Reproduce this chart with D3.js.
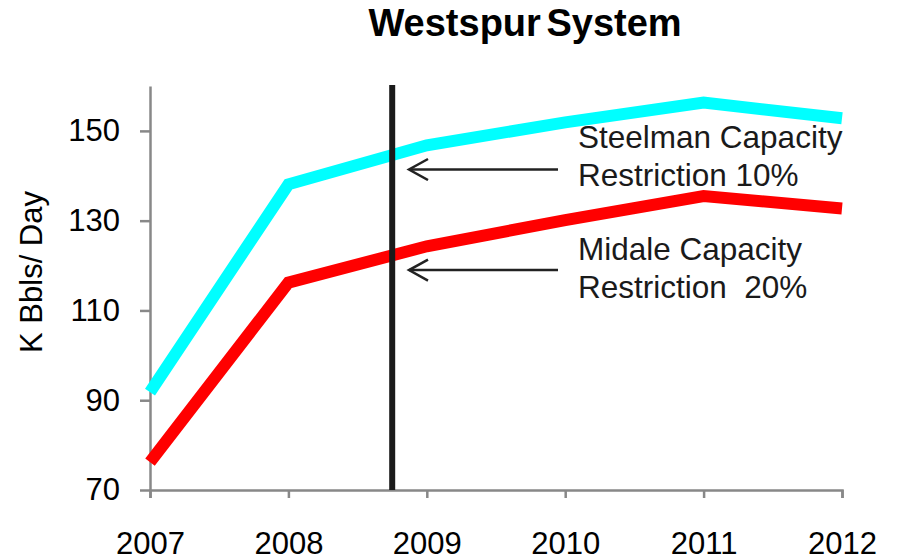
<!DOCTYPE html>
<html>
<head>
<meta charset="utf-8">
<script src="https://cdn.jsdelivr.net/npm/d3@7.9.0/dist/d3.min.js"></script>
<style>
  body { margin: 0; background: #fff; }
  svg { display: block; font-family: Arial, "Liberation Sans", sans-serif; }
  .axis path, .axis line { stroke: #888; stroke-width: 2.5; }
  .axis text { fill: #000; font-size: 31px; }
</style>
</head>
<body>
<div id="chart"></div>
<script>
const years = [2007, 2008, 2009, 2010, 2011, 2012];
const steelman = [91.8, 138.1, 146.8, 151.9, 156.3, 152.8];
const midale = [76.2, 116.2, 124.3, 130.1, 135.5, 132.7];
const yTicks = [70, 90, 110, 130, 150];
const markerYear = 2008.75;
const notes = [
  { lines: ["Steelman Capacity", "Restriction 10%"], arrowY: 141.4, textY: 146.2 },
  { lines: ["Midale Capacity", "Restriction  20%"], arrowY: 119.0, textY: 121.2 }
];

const width = 898;
const height = 560;
const margin = { top: 86, right: 56, bottom: 70, left: 150 };

const svg = d3.select("#chart").append("svg")
  .attr("width", width)
  .attr("height", height);

const x = d3.scaleLinear()
  .domain([2007, 2012])
  .range([margin.left, width - margin.right]);

const y = d3.scaleLinear()
  .domain([70, 160])
  .range([height - margin.bottom, margin.top]);

// title
svg.append("text")
  .attr("x", 525)
  .attr("y", 36)
  .attr("text-anchor", "middle")
  .attr("font-size", 38)
  .attr("font-weight", "bold")
  .attr("word-spacing", -5)
  .text("Westspur System");

// axes
svg.append("g")
  .attr("class", "axis")
  .attr("transform", `translate(0,${y(70)})`)
  .call(d3.axisBottom(x).tickValues(years).tickFormat(d3.format("d")).tickSize(8).tickSizeOuter(8).tickPadding(34));

svg.append("g")
  .attr("class", "axis")
  .attr("transform", `translate(${x(2007)},0)`)
  .call(d3.axisLeft(y).tickValues(yTicks).tickSize(10).tickSizeOuter(0).tickPadding(20));

svg.append("text")
  .attr("transform", `translate(42,272) rotate(-90)`)
  .attr("text-anchor", "middle")
  .attr("font-size", 31)
  .text("K Bbls/ Day");

// series
const line = d3.line()
  .x((d, i) => x(years[i]))
  .y(d => y(d));

svg.append("path")
  .datum(steelman)
  .attr("fill", "none")
  .attr("stroke", "#00ffff")
  .attr("stroke-width", 12)
  .attr("d", line);

svg.append("path")
  .datum(midale)
  .attr("fill", "none")
  .attr("stroke", "#ff0000")
  .attr("stroke-width", 12)
  .attr("d", line);

// vertical marker
svg.append("line")
  .attr("x1", x(markerYear)).attr("x2", x(markerYear))
  .attr("y1", y(160) - 1).attr("y2", y(70))
  .attr("stroke", "#1a1a1a")
  .attr("stroke-width", 6);

// annotations
svg.append("defs").append("marker")
  .attr("id", "arrow")
  .attr("viewBox", "0 0 24 24")
  .attr("refX", 21).attr("refY", 12)
  .attr("markerWidth", 24).attr("markerHeight", 24)
  .attr("markerUnits", "userSpaceOnUse")
  .attr("orient", "auto")
  .append("path")
  .attr("d", "M2,1.5 L21,12 L2,22.5")
  .attr("fill", "none")
  .attr("stroke", "#222")
  .attr("stroke-width", 2.5);

notes.forEach(n => {
  svg.append("line")
    .attr("x1", 558).attr("x2", 409)
    .attr("y1", y(n.arrowY)).attr("y2", y(n.arrowY))
    .attr("stroke", "#222")
    .attr("stroke-width", 2.5)
    .attr("marker-end", "url(#arrow)");

  const t = svg.append("text")
    .attr("x", 578)
    .attr("y", y(n.textY))
    .attr("font-size", 31.5)
    .attr("fill", "#1a1a1a");
  n.lines.forEach((s, i) => {
    t.append("tspan")
      .attr("x", 578)
      .attr("dy", i ? 38 : 0)
      .style("white-space", "pre")
      .text(s);
  });
});
</script>
</body>
</html>
